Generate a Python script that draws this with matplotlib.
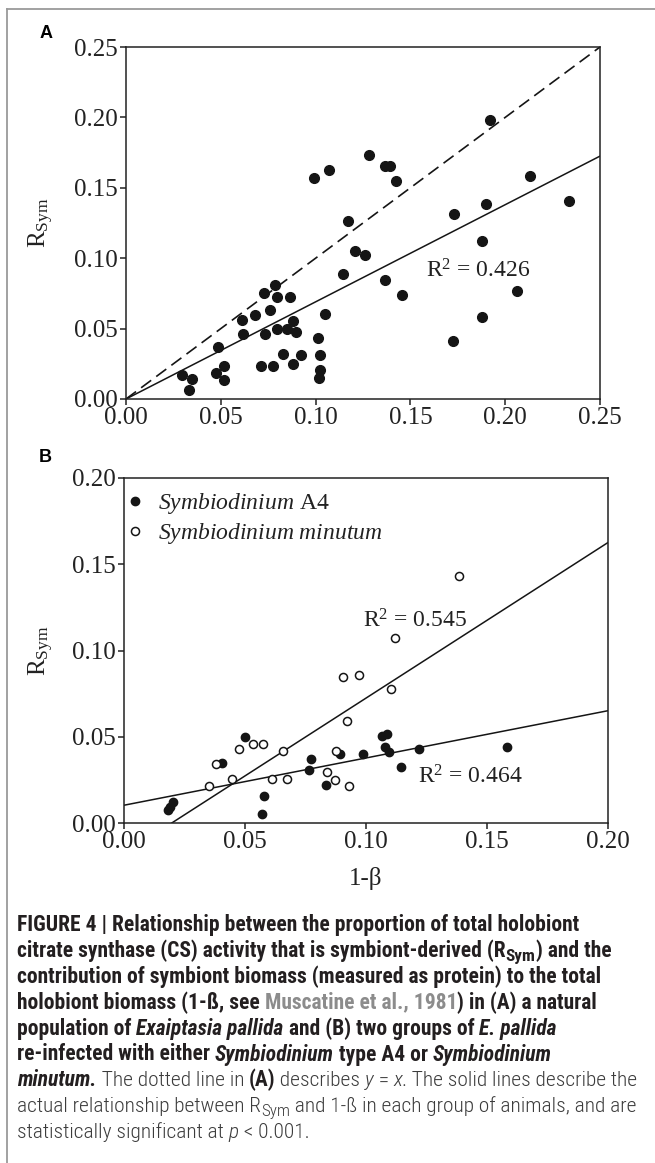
import matplotlib
matplotlib.use("Agg")
import matplotlib.pyplot as plt
from matplotlib import font_manager
from matplotlib.lines import Line2D

plt.rcParams['mathtext.fontset'] = 'custom'
plt.rcParams['mathtext.rm'] = 'Liberation Serif'
plt.rcParams['mathtext.it'] = 'Liberation Serif:italic'
plt.rcParams['mathtext.bf'] = 'Liberation Serif:bold'

# ---- data: panel A (natural population) ----
a_x = [0.1283, 0.1365, 0.1392, 0.0993, 0.1072, 0.1172, 0.1209, 0.1261, 0.1142, 0.1365,
       0.0785, 0.0727, 0.0796, 0.0863, 0.0678, 0.0757, 0.0611, 0.0617, 0.0731, 0.0798,
       0.0847, 0.0880, 0.0894, 0.1049, 0.1014, 0.0487, 0.0826, 0.0921, 0.1024, 0.1922,
       0.1423, 0.2131, 0.2335, 0.1731, 0.1901, 0.1878, 0.1455, 0.2064, 0.1880, 0.1725,
       0.0293, 0.0346, 0.0334, 0.0474, 0.0518, 0.0518, 0.0712, 0.0777, 0.0882, 0.1023,
       0.1019]
a_y = [0.1735, 0.1657, 0.1652, 0.1570, 0.1629, 0.1267, 0.1049, 0.1020, 0.0890, 0.0848,
       0.0807, 0.0755, 0.0727, 0.0722, 0.0599, 0.0630, 0.0559, 0.0464, 0.0459, 0.0500,
       0.0500, 0.0554, 0.0474, 0.0606, 0.0436, 0.0367, 0.0320, 0.0310, 0.0310, 0.1984,
       0.1546, 0.1586, 0.1409, 0.1314, 0.1385, 0.1125, 0.0741, 0.0765, 0.0580, 0.0410,
       0.0173, 0.0144, 0.0066, 0.0185, 0.0237, 0.0137, 0.0237, 0.0237, 0.0251, 0.0204,
       0.0149]
a_fit = (0.69, 0.0)          # slope, intercept
a_r2 = "0.426"

# ---- data: panel B (re-infected groups) ----
b_a4_x = [0.0499, 0.0405, 0.0773, 0.0766, 0.0836, 0.0893, 0.0989, 0.0579, 0.0569, 0.0204,
          0.0190, 0.0180, 0.1065, 0.1086, 0.1079, 0.1093, 0.1217, 0.1582, 0.1145]
b_a4_y = [0.0499, 0.0345, 0.0370, 0.0306, 0.0220, 0.0398, 0.0400, 0.0154, 0.0050, 0.0122,
          0.0094, 0.0075, 0.0507, 0.0516, 0.0441, 0.0413, 0.0428, 0.0441, 0.0326]
b_min_x = [0.0903, 0.0970, 0.0923, 0.1102, 0.1118, 0.1384, 0.0477, 0.0531, 0.0573, 0.0656,
           0.0380, 0.0445, 0.0353, 0.0610, 0.0672, 0.0876, 0.0839, 0.0872, 0.0929]
b_min_y = [0.0844, 0.0856, 0.0591, 0.0775, 0.1075, 0.1430, 0.0428, 0.0460, 0.0460, 0.0420,
           0.0343, 0.0257, 0.0216, 0.0257, 0.0253, 0.0417, 0.0295, 0.0250, 0.0212]
b_a4_fit = (0.274, 0.0103)
b_min_fit = (0.902, -0.0178)
b_a4_r2 = "0.464"
b_min_r2 = "0.545"

a_ticks = [0.00, 0.05, 0.10, 0.15, 0.20, 0.25]
b_ticks = [0.00, 0.05, 0.10, 0.15, 0.20]

W, H = 655, 1163
fig = plt.figure(figsize=(W / 100, H / 100), dpi=100)
SERIF = 'Liberation Serif'
TICK_FS = 18
INK = '#151515'


def style_axes(ax, ticks):
    ax.set_xlim(ticks[0], ticks[-1])
    ax.set_ylim(ticks[0], ticks[-1])
    ax.set_xticks(ticks)
    ax.set_yticks(ticks)
    ax.set_xticklabels(["%.2f" % t for t in ticks], family=SERIF, fontsize=TICK_FS, color='#222222')
    ax.set_yticklabels(["%.2f" % t for t in ticks], family=SERIF, fontsize=TICK_FS, color='#222222')
    ax.tick_params(direction='out', length=4.5, width=1.1, pad=1.5, color='#222222')
    for s in ax.spines.values():
        s.set_linewidth(1.1)
        s.set_color('#222222')


# Panel A
ax1 = fig.add_axes([126 / W, 1 - 399 / H, 474 / W, 352 / H])
ax1.plot([0, 0.25], [0, 0.25], color=INK, lw=1.2, dashes=[7.5, 3.8])
ax1.plot([0, 0.25], [a_fit[1], a_fit[1] + a_fit[0] * 0.25], color=INK, lw=1.1)
ax1.plot(a_x, a_y, 'o', color=INK, ms=7, mec=INK, clip_on=False)
ax1.text(0.158, 0.091, r"R$^{2}$ = " + a_r2, family=SERIF, fontsize=17, va='center', color='#222222')
style_axes(ax1, a_ticks)
ax1.set_ylabel(r"R$_{\mathrm{Sym}}$", family=SERIF, fontsize=18, color='#222222')
ax1.yaxis.set_label_coords(-0.148, 0.5)

# Panel B
ax2 = fig.add_axes([124 / W, 1 - 823 / H, 484 / W, 345 / H])
x0 = -b_min_fit[1] / b_min_fit[0]
ax2.plot([0, 0.2], [b_a4_fit[1], b_a4_fit[1] + b_a4_fit[0] * 0.2], color=INK, lw=1.1)
ax2.plot([x0, 0.2], [0, b_min_fit[1] + b_min_fit[0] * 0.2], color=INK, lw=1.1)
ax2.plot(b_a4_x, b_a4_y, 'o', color=INK, ms=6, mec=INK, clip_on=False)
ax2.plot(b_min_x, b_min_y, 'o', mfc='white', mec=INK, mew=1.1, ms=5.8, clip_on=False)
ax2.text(0.0988, 0.117, r"R$^{2}$ = " + b_min_r2, family=SERIF, fontsize=17, va='center', color='#222222')
ax2.text(0.1216, 0.027, r"R$^{2}$ = " + b_a4_r2, family=SERIF, fontsize=17, va='center', color='#222222')
style_axes(ax2, b_ticks)
ax2.set_ylabel(r"R$_{\mathrm{Sym}}$", family=SERIF, fontsize=18, color='#222222')
ax2.yaxis.set_label_coords(-0.141, 0.5)
ax2.set_xlabel("1-β", family=SERIF, fontsize=18, labelpad=10, color='#222222')
handles = [Line2D([], [], ls='', marker='o', color=INK, ms=6),
           Line2D([], [], ls='', marker='o', mfc='white', mec=INK, mew=1.1, ms=5.8)]
ax2.legend(handles, [r"$\mathit{Symbiodinium}$ A4", r"$\mathit{Symbiodinium\ minutum}$"],
           loc='upper left', bbox_to_anchor=(-0.03, 1.01), frameon=False, handlelength=0.8,
           handletextpad=0.55, labelspacing=0.2, borderaxespad=0.3,
           prop={'family': SERIF, 'size': 17})
for t in ax2.get_legend().get_texts():
    t.set_color('#222222')

# panel letters
fig.text(40 / W, 1 - 33 / H, "A", family='Liberation Sans', weight='bold', fontsize=13, va='center')
fig.text(39 / W, 1 - 458 / H, "B", family='Liberation Sans', weight='bold', fontsize=13, va='center')

# frame (top and left only)
fig.add_artist(Line2D([7 / W, 7 / W], [0, 1 - 9 / H], color='#9a9a9a', lw=1.3, transform=fig.transFigure))
fig.add_artist(Line2D([7 / W, 1], [1 - 9 / H, 1 - 9 / H], color='#9a9a9a', lw=1.3, transform=fig.transFigure))

# ---- caption ----
CAP = 'Liberation Sans'
for f in font_manager.fontManager.ttflist:
    if f.name in ('Liberation Sans Narrow', 'Roboto Condensed', 'Arial Narrow'):
        CAP = f.name
        break

DARK = '#231f20'
LIGHT = '#3c3c3c'
GRAY = '#8c8c8c'
caption = [
    [("FIGURE 4 | Relationship between the proportion of total holobiont", "b")],
    [("citrate synthase (CS) activity that is symbiont-derived (R", "b"), ("Sym", "bs"), (") and the", "b")],
    [("contribution of symbiont biomass (measured as protein) to the total", "b")],
    [("holobiont biomass (1-ß, see ", "b"), ("Muscatine et al., 1981", "bg"), (") in (A) a natural", "b")],
    [("population of ", "b"), ("Exaiptasia pallida", "bi"), (" and (B) two groups of ", "b"), ("E. pallida", "bi")],
    [("re-infected with either ", "b"), ("Symbiodinium", "bi"), (" type A4 or ", "b"), ("Symbiodinium", "bi")],
    [("minutum.", "bi"), (" The dotted line in ", ""), ("(A)", "b"), (" describes ", ""), ("y", "i"),
     (" = ", ""), ("x", "i"), (". The solid lines describe the", "")],
    [("actual relationship between R", ""), ("Sym", "s"), (" and 1-ß in each group of animals, and are", "")],
    [("statistically significant at ", ""), ("p", "i"), (" < 0.001.", "")],
]
renderer = fig.canvas.get_renderer()


def seg_text(xpix, ypix, txt, st, fs_b, fs_r):
    fs = fs_b if 'b' in st else fs_r
    if 's' in st:
        fs *= 0.8
    dy = 4.0 if 's' in st else 0.0
    return fig.text(xpix / W, 1 - (ypix + dy) / H, txt, family=CAP,
                    weight='bold' if 'b' in st else 'light',
                    style='italic' if 'i' in st else 'normal',
                    color=GRAY if 'g' in st else (DARK if 'b' in st else LIGHT),
                    fontsize=fs, va='baseline')


# bold size: first line spans 17..575 px; regular size: line 7 ends near 640 px
probe = seg_text(0, 0, caption[0][0][0], "b", 10, 10)
FS_B = 10 * 560 / probe.get_window_extent(renderer).width
probe.remove()
wb = wr = 0.0
for txt, st in caption[6]:
    p = seg_text(0, 0, txt, st, FS_B, FS_B)
    w = p.get_window_extent(renderer).width
    if 'b' in st:
        wb += w
    else:
        wr += w
    p.remove()
FS_R = FS_B * min(1.05, max(0.85, (622 - wb) / wr))

line_y0 = 931
line_step = 25.9
for i, segs in enumerate(caption):
    xpix = 17.0
    ypix = line_y0 + i * line_step
    for txt, st in segs:
        t = seg_text(xpix, ypix, txt, st, FS_B, FS_R)
        xpix += t.get_window_extent(renderer).width

fig.savefig("out.png", dpi=100)
